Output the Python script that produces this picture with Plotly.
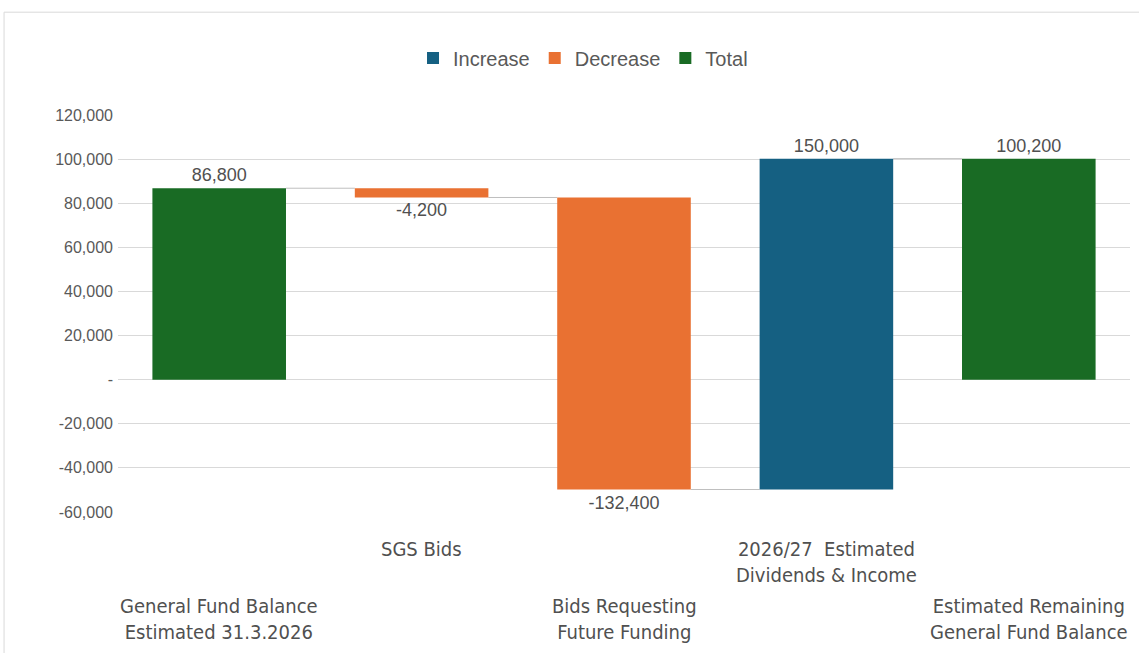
import plotly.graph_objects as go

# Waterfall: General Fund balance movements
categories = [
    "General Fund Balance<br>Estimated 31.3.2026",
    "SGS Bids",
    "Bids Requesting<br>Future Funding",
    "2026/27  Estimated<br>Dividends & Income",
    "Estimated Remaining<br>General Fund Balance",
]
measures = ["total", "decrease", "decrease", "increase", "total"]
values = [86800, -4200, -132400, 150000, 100200]
value_labels = ["86,800", "-4,200", "-132,400", "150,000", "100,200"]
label_row = [1, 0, 1, 0, 1]  # staggered category label rows

y_tickvals = [-60000, -40000, -20000, 0, 20000, 40000, 60000, 80000, 100000, 120000]
y_ticktext = ["-60,000", "-40,000", "-20,000", "-", "20,000", "40,000",
              "60,000", "80,000", "100,000", "120,000"]

colors = {"increase": "#156082", "decrease": "#E97132", "total": "#196B24"}
names = {"increase": "Increase", "decrease": "Decrease", "total": "Total"}
BAR_W = 0.66

# running levels
bases, ends = [], []
level = 0
for m, v in zip(measures, values):
    if m == "total":
        bases.append(0)
        level = v
    else:
        bases.append(level)
        level = level + v
    ends.append(level)

fig = go.Figure()
for kind in ["increase", "decrease", "total"]:
    idx = [i for i, m in enumerate(measures) if m == kind]
    fig.add_trace(go.Bar(
        name=names[kind],
        x=idx,
        y=[values[i] for i in idx],
        base=[bases[i] for i in idx],
        width=BAR_W,
        marker=dict(color=colors[kind], line=dict(width=0)),
        text=[value_labels[i] for i in idx],
        textposition="outside",
        cliponaxis=False,
        textfont=dict(family="Liberation Sans, Arial, sans-serif", size=18, color="#505050"),
        hoverinfo="skip",
    ))

# connector lines between consecutive bars
for i in range(len(values) - 1):
    fig.add_shape(type="line", xref="x", yref="y",
                  x0=i + BAR_W / 2, x1=i + 1 - BAR_W / 2,
                  y0=ends[i], y1=ends[i],
                  line=dict(color="#BFBFBF", width=1), layer="below")

# category labels, staggered in two rows
for i, (c, r) in enumerate(zip(categories, label_row)):
    fig.add_annotation(x=i, xref="x", yref="paper",
                       y=-0.058 if r == 0 else -0.2015,
                       yanchor="top", xanchor="center", showarrow=False,
                       text=c, align="center",
                       font=dict(family="Liberation Sans Narrow, DejaVu Sans Condensed, sans-serif",
                                 size=20, color="#505050"))

# chart area border
fig.add_shape(type="rect", xref="paper", yref="paper",
              x0=-0.1126, x1=1.2, y0=-0.5, y1=1.259,
              line=dict(color="#D9D9D9", width=1), layer="below")

fig.update_layout(
    width=1139, height=653,
    margin=dict(l=118, r=9, t=115, b=141),
    plot_bgcolor="white", paper_bgcolor="white",
    barmode="overlay",
    showlegend=True,
    legend=dict(orientation="h", x=0.4595, xanchor="center", y=1.1436, yanchor="middle",
                font=dict(family="Liberation Sans, Arial, sans-serif", size=20, color="#595959"),
                itemwidth=30, traceorder="normal"),
    xaxis=dict(range=[-0.5, 4.5], showticklabels=False, showgrid=False,
               zeroline=False, showline=False, ticks=""),
    yaxis=dict(range=[-60000, 120000], tickvals=y_tickvals, ticktext=y_ticktext,
               showgrid=True, gridcolor="#D9D9D9", gridwidth=1,
               zeroline=False, showline=False, ticks="", ticklabelstandoff=4,
               tickfont=dict(family="Liberation Sans, Arial, sans-serif", size=16, color="#595959")),
)

fig.write_html("out.html")
